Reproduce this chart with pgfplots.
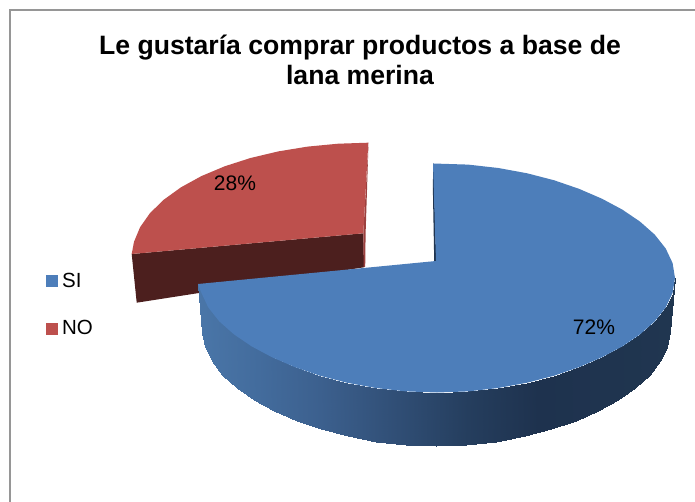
\documentclass[border=0pt]{standalone}
\usepackage{fontspec}
\setmainfont{Liberation Sans}
\usepackage{pgfplots}
\pgfplotsset{compat=1.18}
\definecolor{siblue}{RGB}{77,126,186}
\definecolor{nored}{RGB}{189,80,77}
\definecolor{nodark}{RGB}{76,31,30}
\definecolor{noedge}{RGB}{156,64,62}
\definecolor{sidark}{RGB}{31,52,80}
\definecolor{framegray}{RGB}{150,150,150}
\begin{document}
\begin{tikzpicture}
\path[use as bounding box] (0pt,0pt) rectangle (695pt,502pt);
\begin{axis}[
  at={(0pt,0pt)}, anchor=south west,
  scale only axis, width=695pt, height=502pt,
  xmin=0, xmax=695, ymin=0, ymax=502, y dir=reverse,
  hide axis, clip=true,
  colormap={sideshade}{rgb255(0pt)=(74,118,168); rgb255(60pt)=(67,108,157); rgb255(122pt)=(60,96,142);
    rgb255(200pt)=(48,78,117); rgb255(270pt)=(37,62,94); rgb255(340pt)=(30,50,78); rgb255(477pt)=(32,54,80)},
  legend style={at={(axis description cs:0.0662,0.4605)}, anchor=north west, draw=none, fill=none,
    inner sep=0pt, outer sep=0pt, row sep=28pt, font=\fontsize{20.5}{22}\selectfont},
  legend cell align=left,
  legend image code/.code={\path[draw=none,fill=none] (0pt,0pt) rectangle (13.9pt,1pt); \fill[#1] (0pt,-5.35pt) rectangle (10.7pt,5.35pt);},
]
\addlegendimage{siblue}\addlegendentry{SI}
\addlegendimage{nored}\addlegendentry{NO}

% chart frame, running off the right and bottom of the sheet
\addplot[framegray, line width=2.3pt, forget plot] coordinates {(10.3,520) (10.3,10.3) (720,10.3)};

% NO slice: cut face, edge and top
\addplot[fill=nodark, draw=none, forget plot] coordinates {(131.7,254) (363.3,233.3) (364,267.3) (136.7,302.7)} -- cycle;
\addplot[fill=noedge, draw=none, forget plot] coordinates {(368.5,142.7) (365.6,233.3) (365.2,267) (363.6,267) (363.3,233.3)} -- cycle;
\addplot[fill=nored, draw=none, forget plot] coordinates {
  (363.3,233.3) (368.3,142.7) (338.1,143.7) (307.7,146.6) (278.3,151.4) (250.5,158.0) (224.7,166.3)
  (201.4,176.1) (181,187.3) (163.8,199.7) (150,213.1) (140.1,227.2) (134,241.8) (131.7,254)} -- cycle;

% SI slice: shaded outer wall
\addplot[surf, shader=interp, mesh/rows=2, mesh/ordering=x varies, point meta=x,
  point meta min=198, point meta max=675, forget plot] table {
x y
198 284
201.4 292.9
208.3 307.5
219.3 321.4
234.0 334.4
251.7 346.4
272.1 357.3
294.8 367.1
319.8 375.7
346.8 382.7
375.7 388.0
406.0 391.4
437 392.5
468.0 391.4
498.3 388.0
527.2 382.7
554.2 375.7
579.2 367.1
601.9 357.3
622.3 346.4
640.0 334.4
654.7 321.4
665.7 307.5
672.6 292.9
675 278
202 333
204.9 346.8
211.6 361.4
222.4 375.2
236.8 388.2
254.2 400.1
274.2 411.0
296.5 420.7
321 429.3
347.5 436.2
375.9 441.5
405.6 444.9
436 446
466.4 444.9
496.1 441.5
524.5 436.2
551 429.3
575.5 420.7
597.8 411.0
617.8 400.1
635.2 388.2
649.6 375.2
660.4 361.4
667.1 346.8
669.5 332
};

% SI slice: sliver of the inner wall and top
\addplot[fill=sidark, draw=none, forget plot] coordinates {(432.8,185) (434.2,261) (436.2,261) (433.5,163)} -- cycle;
\addplot[fill=siblue, draw=none, forget plot] coordinates {
  (436,261) (433,163.5) (468.0,164.6) (498.3,168.0) (527.2,173.3) (554.2,180.3) (579.2,188.9)
  (601.9,198.7) (622.3,209.6) (640.0,221.6) (654.7,234.6) (665.7,248.5) (672.6,263.1) (675,278)
  (672.6,292.9) (665.7,307.5) (654.7,321.4) (640.0,334.4) (622.3,346.4) (601.9,357.3) (579.2,367.1)
  (554.2,375.7) (527.2,382.7) (498.3,388.0) (468.0,391.4) (437,392.5) (406.0,391.4) (375.7,388.0)
  (346.8,382.7) (319.8,375.7) (294.8,367.1) (272.1,357.3) (251.7,346.4) (234.0,334.4) (219.3,321.4)
  (208.3,307.5) (201.4,292.9) (198,284)} -- cycle;

% heading and share labels
\node[font=\bfseries\fontsize{26.6}{30}\selectfont, anchor=base] at (axis cs:360,55)
  {Le gustaría comprar productos a base de};
\node[font=\bfseries\fontsize{26.6}{30}\selectfont, anchor=base] at (axis cs:360,85) {lana merina};
\node[font=\fontsize{21}{24}\selectfont] at (axis cs:235,183) {28\%};
\node[font=\fontsize{21}{24}\selectfont] at (axis cs:594,327) {72\%};
\end{axis}
\end{tikzpicture}
\end{document}
